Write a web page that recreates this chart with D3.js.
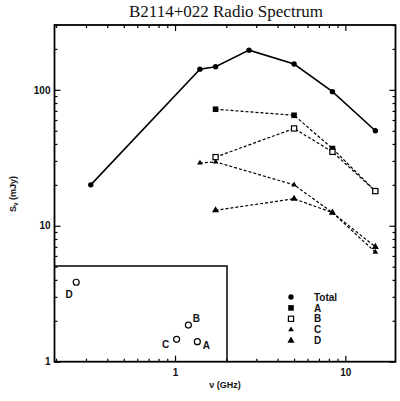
<!DOCTYPE html>
<html><head><meta charset="utf-8">
<script src="https://cdn.jsdelivr.net/npm/d3@7"></script>
<style>
html,body{margin:0;padding:0;background:#fff;}
svg{display:block;}
</style></head>
<body>
<script>
// ---- data ----
const freqTotal = [0.32, 1.4, 1.73, 2.72, 5.0, 8.4, 15.0];
const fluxTotal = [20, 142, 148, 196, 155, 97, 50];
const freqA = [1.73, 5.0, 8.4, 15.0];
const fluxA = [72, 65, 37, 18];
const freqB = [1.73, 5.0, 8.4, 15.0];
const fluxB = [32, 52, 35, 18];
const freqC = [1.4, 1.73, 5.0, 8.4, 15.0];
const fluxC = [29, 29.5, 20, 12.5, 6.4];
const freqD = [1.73, 5.0, 8.4, 15.0];
const fluxD = [13, 15.8, 12.5, 7.0];
const legendLabels = ["Total", "A", "B", "C", "D"];
const xMajorTicks = [1, 10];
const yMajorTicks = [1, 10, 100];
// inset: relative component positions (arbitrary units)
const insetNames = ["A", "B", "C", "D"];
const insetX = [8.28, 7.76, 7.08, 1.26];
const insetY = [2.09, 3.83, 2.34, 8.3];

// ---- layout ----
const W = 400, H = 401;
const L = 54.5, R = 395.5, T = 25, B = 361.7;
const svg = d3.select("body").append("svg").attr("width", W).attr("height", H);

const x = d3.scaleLog().domain([0.196, 19.7]).range([L, R]);
const y = d3.scaleLog().domain([1, 300]).range([B, T]);

function minorTicks(dom) {
  const out = [];
  for (let e = -1; e <= 3; e++) {
    for (let m = 1; m <= 9; m++) {
      const v = m * Math.pow(10, e);
      if (v >= dom[0] - 1e-9 && v <= dom[1] + 1e-9 && m !== 1) out.push(v);
    }
  }
  return out;
}
const xMinor = minorTicks(x.domain());
const yMinor = minorTicks(y.domain());

const fontTick = "Liberation Sans, Arial, sans-serif";

function drawAxis(gen, tr, vals, size, labels) {
  const g = svg.append("g").attr("transform", tr)
    .call(gen.tickValues(vals).tickSizeInner(size).tickSizeOuter(0)
      .tickFormat(labels ? d3.format("d") : ""));
  g.select(".domain").remove();
  g.selectAll(".tick line").attr("stroke", "#000").attr("stroke-width", 1.2);
  g.selectAll(".tick text").attr("font-family", fontTick).attr("font-size", 10)
    .attr("font-weight", "bold").attr("fill", "#111");
  return g;
}
// bottom
drawAxis(d3.axisBottom(x), `translate(0,${B})`, xMajorTicks, -6, true)
  .selectAll(".tick text").attr("dy", "0.71em").attr("y", 7);
drawAxis(d3.axisBottom(x), `translate(0,${B})`, xMinor, -3, false);
// top
drawAxis(d3.axisTop(x), `translate(0,${T})`, xMajorTicks, -6, false);
drawAxis(d3.axisTop(x), `translate(0,${T})`, xMinor, -3, false);
// left
drawAxis(d3.axisLeft(y), `translate(${L},0)`, yMajorTicks, -6, true)
  .selectAll(".tick text").attr("x", -4);
drawAxis(d3.axisLeft(y), `translate(${L},0)`, yMinor, -3, false);
// right
drawAxis(d3.axisRight(y), `translate(${R},0)`, yMajorTicks, -6, false);
drawAxis(d3.axisRight(y), `translate(${R},0)`, yMinor, -3, false);

// frame
svg.append("rect").attr("x", L).attr("y", T).attr("width", R - L).attr("height", B - T)
  .attr("fill", "none").attr("stroke", "#000").attr("stroke-width", 1.8);

// lines
const line = d3.line().x(d => x(d[0])).y(d => y(d[1]));
function zip(a, b) { return a.map((v, i) => [v, b[i]]); }
const series = [
  {f: freqTotal, s: fluxTotal, sym: "circle", dash: null},
  {f: freqA, s: fluxA, sym: "fsquare", dash: "3,2"},
  {f: freqB, s: fluxB, sym: "osquare", dash: "3,2"},
  {f: freqC, s: fluxC, sym: "striangle", dash: "3,2"},
  {f: freqD, s: fluxD, sym: "ltriangle", dash: "3,2"}
];
series.forEach(se => {
  svg.append("path").datum(zip(se.f, se.s)).attr("d", line)
    .attr("fill", "none").attr("stroke", "#000")
    .attr("stroke-width", se.dash ? 1.2 : 1.6)
    .attr("stroke-dasharray", se.dash);
});
function drawSym(g, sym, cx, cy) {
  if (sym === "circle") g.append("circle").attr("cx", cx).attr("cy", cy).attr("r", 2.7).attr("fill", "#000");
  else if (sym === "fsquare") g.append("rect").attr("x", cx - 2.8).attr("y", cy - 2.8).attr("width", 5.6).attr("height", 5.6).attr("fill", "#000");
  else if (sym === "osquare") g.append("rect").attr("x", cx - 2.6).attr("y", cy - 2.6).attr("width", 5.2).attr("height", 5.2).attr("fill", "#fff").attr("stroke", "#000").attr("stroke-width", 1.2);
  else if (sym === "striangle") g.append("path").attr("d", d3.symbol(d3.symbolTriangle, 14)()).attr("transform", `translate(${cx},${cy})`).attr("fill", "#000");
  else if (sym === "ltriangle") g.append("path").attr("d", d3.symbol(d3.symbolTriangle, 22)()).attr("transform", `translate(${cx},${cy})`).attr("fill", "#000");
}
series.forEach(se => {
  const g = svg.append("g");
  se.f.forEach((f, i) => drawSym(g, se.sym, x(f), y(se.s[i])));
});

// legend
const legX = 291, legTextX = 314, legY0 = 297, legDy = 10.9;
legendLabels.forEach((lab, i) => {
  const g = svg.append("g");
  drawSym(g, series[i].sym, legX, legY0 + i * legDy);
  svg.append("text").attr("x", legTextX).attr("y", legY0 + i * legDy + 3.6)
    .attr("font-family", fontTick).attr("font-size", 10).attr("font-weight", "bold")
    .attr("fill", "#111").text(lab);
});

// inset
const iL = L, iR = 227, iT = 266, iB = B;
svg.append("path").attr("d", `M${iL},${iT}H${iR}V${iB}`).attr("fill", "none")
  .attr("stroke", "#000").attr("stroke-width", 1.5);
const ix = d3.scaleLinear().domain([0, 10]).range([iL, iR]);
const iy = d3.scaleLinear().domain([0, 10]).range([iB, iT]);
const labOff = {A: [9, 4], B: [8, -7], C: [-11, 5], D: [-7, 12]};
insetNames.forEach((n, i) => {
  const cx = ix(insetX[i]), cy = iy(insetY[i]);
  svg.append("circle").attr("cx", cx).attr("cy", cy).attr("r", 3)
    .attr("fill", "none").attr("stroke", "#000").attr("stroke-width", 1.2);
  svg.append("text").attr("x", cx + labOff[n][0]).attr("y", cy + labOff[n][1] + 3.5)
    .attr("text-anchor", "middle").attr("font-family", fontTick).attr("font-size", 10)
    .attr("font-weight", "bold").attr("fill", "#111").text(n);
});

// title
svg.append("text").attr("x", 226).attr("y", 17).attr("text-anchor", "middle")
  .attr("font-family", "Liberation Serif, Times New Roman, serif").attr("font-size", 17)
  .attr("fill", "#111").text("B2114+022 Radio Spectrum");

// axis titles
svg.append("text").attr("x", 225).attr("y", 388).attr("text-anchor", "middle")
  .attr("font-family", fontTick).attr("font-size", 9).attr("font-weight", "bold")
  .attr("fill", "#111").text("ν (GHz)");
const yl = svg.append("text").attr("transform", "translate(16,194) rotate(-90)")
  .attr("text-anchor", "middle").attr("font-family", fontTick).attr("font-size", 9)
  .attr("font-weight", "bold").attr("fill", "#111");
yl.append("tspan").text("S");
yl.append("tspan").attr("font-size", 6.5).attr("dy", 2).text("ν");
yl.append("tspan").attr("dy", -2).text(" (mJy)");
</script>
</body></html>
